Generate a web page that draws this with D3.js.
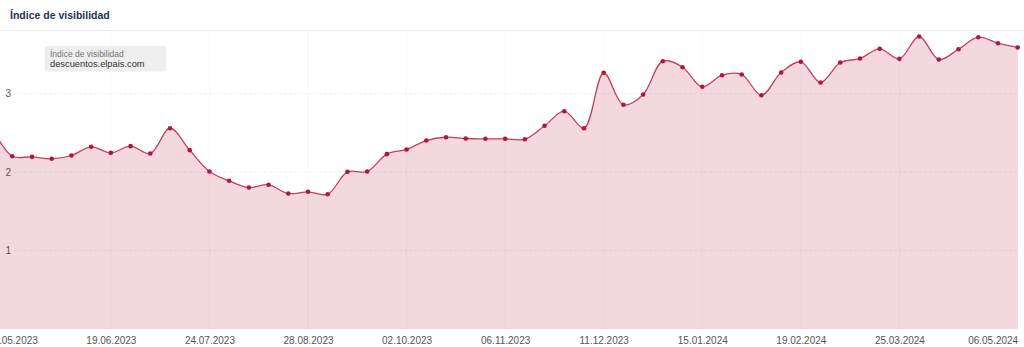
<!DOCTYPE html>
<html>
<head>
<meta charset="utf-8">
<script src="https://cdn.jsdelivr.net/npm/d3@7"></script>
<style>
  body { margin: 0; background: #fff; font-family: "Liberation Sans", Arial, sans-serif; }
</style>
</head>
<body>
<div class="chart"></div>
<script>
// Sistrix style visibility chart, weekly values

var firstWeek = '08.05.2023'
var values = [
    2.55,
    2.204, 2.196, 2.171, 2.213, 2.324, 2.247, 2.332, 2.238, 2.561, 2.281,
    2.009, 1.890, 1.805, 1.839, 1.728, 1.750, 1.719, 2.005,
    2.009, 2.230, 2.290, 2.404, 2.446, 2.430, 2.426, 2.426, 2.421, 2.592,
    2.778, 2.561, 3.268, 2.860, 2.991, 3.416,
    3.339, 3.089, 3.237, 3.246, 2.982, 3.272, 3.408, 3.144, 3.399, 3.450,
    3.574, 3.446, 3.731, 3.438, 3.569, 3.722, 3.645, 3.591
]
var xTickLabels = ['15.05.2023', '19.06.2023', '24.07.2023', '28.08.2023', '02.10.2023',
    '06.11.2023', '11.12.2023', '15.01.2024', '19.02.2024', '25.03.2024', '06.05.2024']
var yTicks = [1, 2, 3]
var title = 'Índice de visibilidad'
var legendTitle = 'Índice de visibilidad'
var legendDomain = 'descuentos.elpais.com'

var parse = d3.timeParse('%d.%m.%Y')
var fmt = d3.timeFormat('%d.%m.%Y')

var start = parse(firstWeek)
var data = values.map((v, i) => ({ date: d3.timeWeek.offset(start, i), value: v }))

var svgWidth = 1024
var svgHeight = 347
var plotLeft = 0
var plotRight = 1020
var plotTop = 30.5
var plotBottom = 329

var svg = d3.select('.chart')
    .append('svg')
    .attr('width', svgWidth)
    .attr('height', svgHeight)
    .style('display', 'block')

var x = d3.scaleTime()
    .domain([parse(xTickLabels[0]), parse(xTickLabels[xTickLabels.length - 1])])
    .range([12.3, 1017.7])

var y = d3.scaleLinear()
    .domain([0, 3.8])
    .range([plotBottom, plotBottom - 3.8 * 78.4])

// Title and separator
svg.append('text')
    .attr('x', 10)
    .attr('y', 19)
    .attr('font-size', '10.5px')
    .attr('font-weight', 'bold')
    .attr('fill', '#27344f')
    .text(title)

svg.append('line')
    .attr('x1', 0).attr('x2', svgWidth)
    .attr('y1', plotTop).attr('y2', plotTop)
    .attr('stroke', '#ececec')

svg.append('defs').append('clipPath')
    .attr('id', 'plot-clip')
    .append('rect')
    .attr('x', plotLeft).attr('y', plotTop)
    .attr('width', plotRight - plotLeft).attr('height', plotBottom - plotTop + 1)

var plot = svg.append('g').attr('clip-path', 'url(#plot-clip)')

// Area and line
var area = d3.area()
    .x(d => x(d.date))
    .y0(y(0))
    .y1(d => y(d.value))
    .curve(d3.curveCatmullRom.alpha(0.5))

var line = d3.line()
    .x(d => x(d.date))
    .y(d => y(d.value))
    .curve(d3.curveCatmullRom.alpha(0.5))

plot.append('path')
    .datum(data)
    .attr('d', area)
    .attr('fill', '#f3d8de')

// Grid
var grid = svg.append('g')
grid.selectAll('line.v')
    .data(xTickLabels.slice(1))
    .enter().append('line')
    .attr('x1', d => x(parse(d))).attr('x2', d => x(parse(d)))
    .attr('y1', plotTop).attr('y2', plotBottom)
    .attr('stroke', '#000')
    .attr('stroke-opacity', 0.03)

grid.selectAll('line.h')
    .data(yTicks)
    .enter().append('line')
    .attr('x1', 14).attr('x2', plotRight)
    .attr('y1', d => y(d)).attr('y2', d => y(d))
    .attr('stroke', '#000')
    .attr('stroke-opacity', 0.06)
    .attr('stroke-dasharray', '3,2')

plot.append('path')
    .datum(data)
    .attr('d', line)
    .attr('fill', 'none')
    .attr('stroke', '#c4405f')
    .attr('stroke-width', 1.3)

plot.selectAll('circle')
    .data(data)
    .enter().append('circle')
    .attr('cx', d => x(d.date))
    .attr('cy', d => y(d.value))
    .attr('r', 2.3)
    .attr('fill', '#b0163f')

// Y labels
svg.append('g')
    .selectAll('text')
    .data(yTicks)
    .enter().append('text')
    .attr('x', 5.5)
    .attr('y', d => y(d) + 3.5)
    .attr('font-size', '10px')
    .attr('fill', '#555')
    .text(d => d)

// X axis
var xAxis = svg.append('g')
    .attr('transform', `translate(0, ${plotBottom})`)
    .call(d3.axisBottom(x)
        .tickValues(xTickLabels.map(parse))
        .tickFormat(fmt)
        .tickSize(0)
        .tickPadding(8))
xAxis.select('.domain').remove()
xAxis.selectAll('text')
    .attr('font-family', '"Liberation Sans", Arial, sans-serif')
    .attr('font-size', '10px')
    .attr('fill', '#555')
xAxis.selectAll('.tick:last-of-type text')
    .attr('text-anchor', 'end')

// Legend box
var legend = svg.append('g').attr('transform', 'translate(44.5, 46)')
legend.append('rect')
    .attr('width', 121.5)
    .attr('height', 25.5)
    .attr('rx', 2)
    .attr('fill', '#eeeeee')
legend.append('text')
    .attr('x', 5.5).attr('y', 10.5)
    .attr('font-size', '8.5px')
    .attr('fill', '#777')
    .text(legendTitle)
legend.append('text')
    .attr('x', 5.5).attr('y', 21)
    .attr('font-size', '9.3px')
    .attr('fill', '#333')
    .text(legendDomain)
</script>
</body>
</html>
